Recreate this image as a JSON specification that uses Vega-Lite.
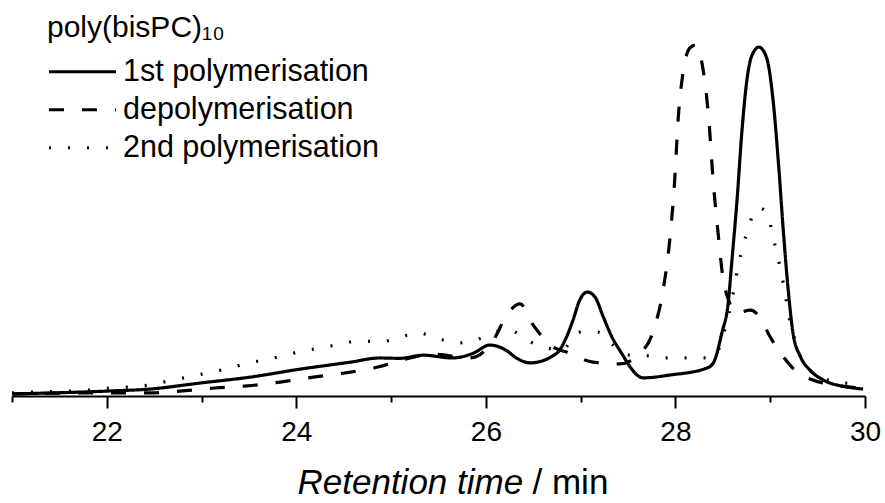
{
  "$schema": "https://vega.github.io/schema/vega-lite/v6.json",
  "width": 853,
  "height": 396,
  "autosize": {"type": "none"},
  "padding": {"left": 12, "top": 0, "right": 20, "bottom": 107},
  "config": {
    "view": {"stroke": null},
    "font": "Liberation Sans"
  },
  "resolve": {"axis": {"x": "independent"}},
  "layer": [
    {
      "data": {
        "values": [
          {"series": "1st polymerisation", "t": 21.00, "v": 0.006},
          {"series": "1st polymerisation", "t": 22.00, "v": 0.014},
          {"series": "1st polymerisation", "t": 22.46, "v": 0.020},
          {"series": "1st polymerisation", "t": 22.98, "v": 0.037},
          {"series": "1st polymerisation", "t": 23.51, "v": 0.054},
          {"series": "1st polymerisation", "t": 24.04, "v": 0.077},
          {"series": "1st polymerisation", "t": 24.57, "v": 0.097},
          {"series": "1st polymerisation", "t": 24.88, "v": 0.109},
          {"series": "1st polymerisation", "t": 25.09, "v": 0.108},
          {"series": "1st polymerisation", "t": 25.34, "v": 0.117},
          {"series": "1st polymerisation", "t": 25.65, "v": 0.109},
          {"series": "1st polymerisation", "t": 25.87, "v": 0.123},
          {"series": "1st polymerisation", "t": 26.04, "v": 0.146},
          {"series": "1st polymerisation", "t": 26.22, "v": 0.130},
          {"series": "1st polymerisation", "t": 26.32, "v": 0.109},
          {"series": "1st polymerisation", "t": 26.47, "v": 0.095},
          {"series": "1st polymerisation", "t": 26.75, "v": 0.123},
          {"series": "1st polymerisation", "t": 26.85, "v": 0.169},
          {"series": "1st polymerisation", "t": 26.92, "v": 0.218},
          {"series": "1st polymerisation", "t": 26.99, "v": 0.275},
          {"series": "1st polymerisation", "t": 27.07, "v": 0.298},
          {"series": "1st polymerisation", "t": 27.15, "v": 0.284},
          {"series": "1st polymerisation", "t": 27.24, "v": 0.226},
          {"series": "1st polymerisation", "t": 27.33, "v": 0.169},
          {"series": "1st polymerisation", "t": 27.41, "v": 0.132},
          {"series": "1st polymerisation", "t": 27.66, "v": 0.052},
          {"series": "1st polymerisation", "t": 27.94, "v": 0.060},
          {"series": "1st polymerisation", "t": 28.33, "v": 0.080},
          {"series": "1st polymerisation", "t": 28.40, "v": 0.095},
          {"series": "1st polymerisation", "t": 28.49, "v": 0.181},
          {"series": "1st polymerisation", "t": 28.56, "v": 0.275},
          {"series": "1st polymerisation", "t": 28.59, "v": 0.370},
          {"series": "1st polymerisation", "t": 28.65, "v": 0.562},
          {"series": "1st polymerisation", "t": 28.70, "v": 0.754},
          {"series": "1st polymerisation", "t": 28.75, "v": 0.897},
          {"series": "1st polymerisation", "t": 28.80, "v": 0.971},
          {"series": "1st polymerisation", "t": 28.88, "v": 1.000},
          {"series": "1st polymerisation", "t": 28.96, "v": 0.971},
          {"series": "1st polymerisation", "t": 29.03, "v": 0.848},
          {"series": "1st polymerisation", "t": 29.09, "v": 0.656},
          {"series": "1st polymerisation", "t": 29.14, "v": 0.467},
          {"series": "1st polymerisation", "t": 29.20, "v": 0.275},
          {"series": "1st polymerisation", "t": 29.24, "v": 0.181},
          {"series": "1st polymerisation", "t": 29.32, "v": 0.112},
          {"series": "1st polymerisation", "t": 29.42, "v": 0.074},
          {"series": "1st polymerisation", "t": 29.56, "v": 0.046},
          {"series": "1st polymerisation", "t": 29.81, "v": 0.026},
          {"series": "1st polymerisation", "t": 29.98, "v": 0.020},

          {"series": "depolymerisation", "t": 21.00, "v": 0.006},
          {"series": "depolymerisation", "t": 22.00, "v": 0.009},
          {"series": "depolymerisation", "t": 22.46, "v": 0.009},
          {"series": "depolymerisation", "t": 22.77, "v": 0.014},
          {"series": "depolymerisation", "t": 23.14, "v": 0.023},
          {"series": "depolymerisation", "t": 23.48, "v": 0.029},
          {"series": "depolymerisation", "t": 23.83, "v": 0.040},
          {"series": "depolymerisation", "t": 24.18, "v": 0.054},
          {"series": "depolymerisation", "t": 24.51, "v": 0.066},
          {"series": "depolymerisation", "t": 24.86, "v": 0.083},
          {"series": "depolymerisation", "t": 25.12, "v": 0.103},
          {"series": "depolymerisation", "t": 25.44, "v": 0.120},
          {"series": "depolymerisation", "t": 25.83, "v": 0.109},
          {"series": "depolymerisation", "t": 26.08, "v": 0.160},
          {"series": "depolymerisation", "t": 26.22, "v": 0.232},
          {"series": "depolymerisation", "t": 26.36, "v": 0.264},
          {"series": "depolymerisation", "t": 26.50, "v": 0.203},
          {"series": "depolymerisation", "t": 26.71, "v": 0.140},
          {"series": "depolymerisation", "t": 26.85, "v": 0.126},
          {"series": "depolymerisation", "t": 27.13, "v": 0.097},
          {"series": "depolymerisation", "t": 27.41, "v": 0.092},
          {"series": "depolymerisation", "t": 27.63, "v": 0.123},
          {"series": "depolymerisation", "t": 27.77, "v": 0.189},
          {"series": "depolymerisation", "t": 27.87, "v": 0.304},
          {"series": "depolymerisation", "t": 27.94, "v": 0.447},
          {"series": "depolymerisation", "t": 27.99, "v": 0.610},
          {"series": "depolymerisation", "t": 28.03, "v": 0.799},
          {"series": "depolymerisation", "t": 28.08, "v": 0.926},
          {"series": "depolymerisation", "t": 28.15, "v": 0.997},
          {"series": "depolymerisation", "t": 28.21, "v": 1.006},
          {"series": "depolymerisation", "t": 28.28, "v": 0.954},
          {"series": "depolymerisation", "t": 28.35, "v": 0.799},
          {"series": "depolymerisation", "t": 28.40, "v": 0.610},
          {"series": "depolymerisation", "t": 28.45, "v": 0.467},
          {"series": "depolymerisation", "t": 28.50, "v": 0.341},
          {"series": "depolymerisation", "t": 28.56, "v": 0.275},
          {"series": "depolymerisation", "t": 28.65, "v": 0.238},
          {"series": "depolymerisation", "t": 28.79, "v": 0.246},
          {"series": "depolymerisation", "t": 28.89, "v": 0.226},
          {"series": "depolymerisation", "t": 29.00, "v": 0.169},
          {"series": "depolymerisation", "t": 29.14, "v": 0.112},
          {"series": "depolymerisation", "t": 29.28, "v": 0.069},
          {"series": "depolymerisation", "t": 29.45, "v": 0.046},
          {"series": "depolymerisation", "t": 29.66, "v": 0.032},
          {"series": "depolymerisation", "t": 29.98, "v": 0.023},

          {"series": "2nd polymerisation", "t": 21.00, "v": 0.009},
          {"series": "2nd polymerisation", "t": 21.19, "v": 0.011},
          {"series": "2nd polymerisation", "t": 21.61, "v": 0.014},
          {"series": "2nd polymerisation", "t": 21.82, "v": 0.017},
          {"series": "2nd polymerisation", "t": 22.03, "v": 0.023},
          {"series": "2nd polymerisation", "t": 22.25, "v": 0.026},
          {"series": "2nd polymerisation", "t": 22.46, "v": 0.032},
          {"series": "2nd polymerisation", "t": 22.65, "v": 0.043},
          {"series": "2nd polymerisation", "t": 22.85, "v": 0.054},
          {"series": "2nd polymerisation", "t": 23.06, "v": 0.066},
          {"series": "2nd polymerisation", "t": 23.25, "v": 0.077},
          {"series": "2nd polymerisation", "t": 23.46, "v": 0.092},
          {"series": "2nd polymerisation", "t": 23.65, "v": 0.103},
          {"series": "2nd polymerisation", "t": 23.86, "v": 0.115},
          {"series": "2nd polymerisation", "t": 24.06, "v": 0.129},
          {"series": "2nd polymerisation", "t": 24.27, "v": 0.138},
          {"series": "2nd polymerisation", "t": 24.46, "v": 0.149},
          {"series": "2nd polymerisation", "t": 24.67, "v": 0.158},
          {"series": "2nd polymerisation", "t": 24.88, "v": 0.155},
          {"series": "2nd polymerisation", "t": 25.07, "v": 0.166},
          {"series": "2nd polymerisation", "t": 25.28, "v": 0.181},
          {"series": "2nd polymerisation", "t": 25.48, "v": 0.166},
          {"series": "2nd polymerisation", "t": 25.70, "v": 0.152},
          {"series": "2nd polymerisation", "t": 25.89, "v": 0.160},
          {"series": "2nd polymerisation", "t": 26.07, "v": 0.181},
          {"series": "2nd polymerisation", "t": 26.25, "v": 0.189},
          {"series": "2nd polymerisation", "t": 26.43, "v": 0.160},
          {"series": "2nd polymerisation", "t": 26.64, "v": 0.138},
          {"series": "2nd polymerisation", "t": 26.80, "v": 0.132},
          {"series": "2nd polymerisation", "t": 26.99, "v": 0.183},
          {"series": "2nd polymerisation", "t": 27.18, "v": 0.183},
          {"series": "2nd polymerisation", "t": 27.34, "v": 0.146},
          {"series": "2nd polymerisation", "t": 27.52, "v": 0.117},
          {"series": "2nd polymerisation", "t": 27.73, "v": 0.115},
          {"series": "2nd polymerisation", "t": 27.92, "v": 0.109},
          {"series": "2nd polymerisation", "t": 28.13, "v": 0.109},
          {"series": "2nd polymerisation", "t": 28.34, "v": 0.109},
          {"series": "2nd polymerisation", "t": 28.42, "v": 0.117},
          {"series": "2nd polymerisation", "t": 28.52, "v": 0.189},
          {"series": "2nd polymerisation", "t": 28.61, "v": 0.295},
          {"series": "2nd polymerisation", "t": 28.66, "v": 0.370},
          {"series": "2nd polymerisation", "t": 28.71, "v": 0.427},
          {"series": "2nd polymerisation", "t": 28.77, "v": 0.481},
          {"series": "2nd polymerisation", "t": 28.84, "v": 0.533},
          {"series": "2nd polymerisation", "t": 28.89, "v": 0.539},
          {"series": "2nd polymerisation", "t": 28.98, "v": 0.513},
          {"series": "2nd polymerisation", "t": 29.03, "v": 0.456},
          {"series": "2nd polymerisation", "t": 29.08, "v": 0.398},
          {"series": "2nd polymerisation", "t": 29.12, "v": 0.347},
          {"series": "2nd polymerisation", "t": 29.16, "v": 0.289},
          {"series": "2nd polymerisation", "t": 29.19, "v": 0.238},
          {"series": "2nd polymerisation", "t": 29.24, "v": 0.181},
          {"series": "2nd polymerisation", "t": 29.29, "v": 0.132},
          {"series": "2nd polymerisation", "t": 29.39, "v": 0.083},
          {"series": "2nd polymerisation", "t": 29.56, "v": 0.052},
          {"series": "2nd polymerisation", "t": 29.77, "v": 0.037},
          {"series": "2nd polymerisation", "t": 29.97, "v": 0.037}
        ]
      },
      "mark": {"type": "line", "interpolate": "monotone", "strokeWidth": 3.2, "color": "black", "strokeCap": "butt"},
      "encoding": {
        "x": {
          "field": "t",
          "type": "quantitative",
          "scale": {"domain": [21, 30], "nice": false, "zero": false},
          "axis": {
            "values": [21, 22, 23, 24, 25, 26, 27, 28, 29, 30],
            "format": "d",
            "labelExpr": "datum.value % 2 === 0 ? datum.label : ''",
            "tickSize": {"condition": {"test": "datum.value % 2 === 0", "value": 12}, "value": 6},
            "tickWidth": 2,
            "tickColor": "black",
            "domainColor": "black",
            "domainWidth": 2,
            "grid": false,
            "labelFont": "Liberation Sans",
            "labelFontSize": 28,
            "labelColor": "black",
            "labelPadding": 10,
            "labelFlush": false,
            "labelOverlap": false,
            "title": "Retention time",
            "titleFont": "Liberation Sans",
            "titleFontSize": 35,
            "titleFontStyle": "italic",
            "titleFontWeight": "normal",
            "titleColor": "black",
            "titleAnchor": "start",
            "titleAlign": "left",
            "titleBaseline": "alphabetic",
            "titleX": 285,
            "titleY": 97
          }
        },
        "y": {
          "field": "v",
          "type": "quantitative",
          "scale": {"domain": [0, 1.135], "nice": false},
          "axis": null
        },
        "strokeDash": {
          "field": "series",
          "type": "nominal",
          "scale": {
            "domain": ["1st polymerisation", "depolymerisation", "2nd polymerisation"],
            "range": [[1, 0], [15, 18], [2, 17]]
          },
          "legend": {
            "orient": "none",
            "legendX": 35,
            "legendY": 13,
            "title": "poly(bisPC)₁₀",
            "titleFont": "Liberation Sans",
            "titleFontSize": 30,
            "titleFontWeight": "normal",
            "titleColor": "black",
            "titlePadding": 10,
            "labelFont": "Liberation Sans",
            "labelFontSize": 30.5,
            "labelColor": "black",
            "labelOffset": 5,
            "labelLimit": 0,
            "symbolType": "stroke",
            "symbolSize": 4489,
            "symbolStrokeWidth": 3.2,
            "symbolStrokeColor": "black",
            "clipHeight": 37.5,
            "rowPadding": 0,
            "padding": 0
          }
        }
      }
    },
    {
      "data": {"values": [{"t": 21}, {"t": 30}]},
      "mark": {"type": "point", "opacity": 0},
      "encoding": {
        "x": {
          "field": "t",
          "type": "quantitative",
          "axis": {
            "orient": "top",
            "domain": false,
            "ticks": false,
            "labels": false,
            "grid": false,
            "title": "/ min",
            "titleFont": "Liberation Sans",
            "titleFontSize": 35,
            "titleFontStyle": "normal",
            "titleFontWeight": "normal",
            "titleColor": "black",
            "titleAnchor": "start",
            "titleAlign": "left",
            "titleBaseline": "alphabetic",
            "titleX": 520,
            "titleY": 493
          }
        }
      }
    }
  ]
}
